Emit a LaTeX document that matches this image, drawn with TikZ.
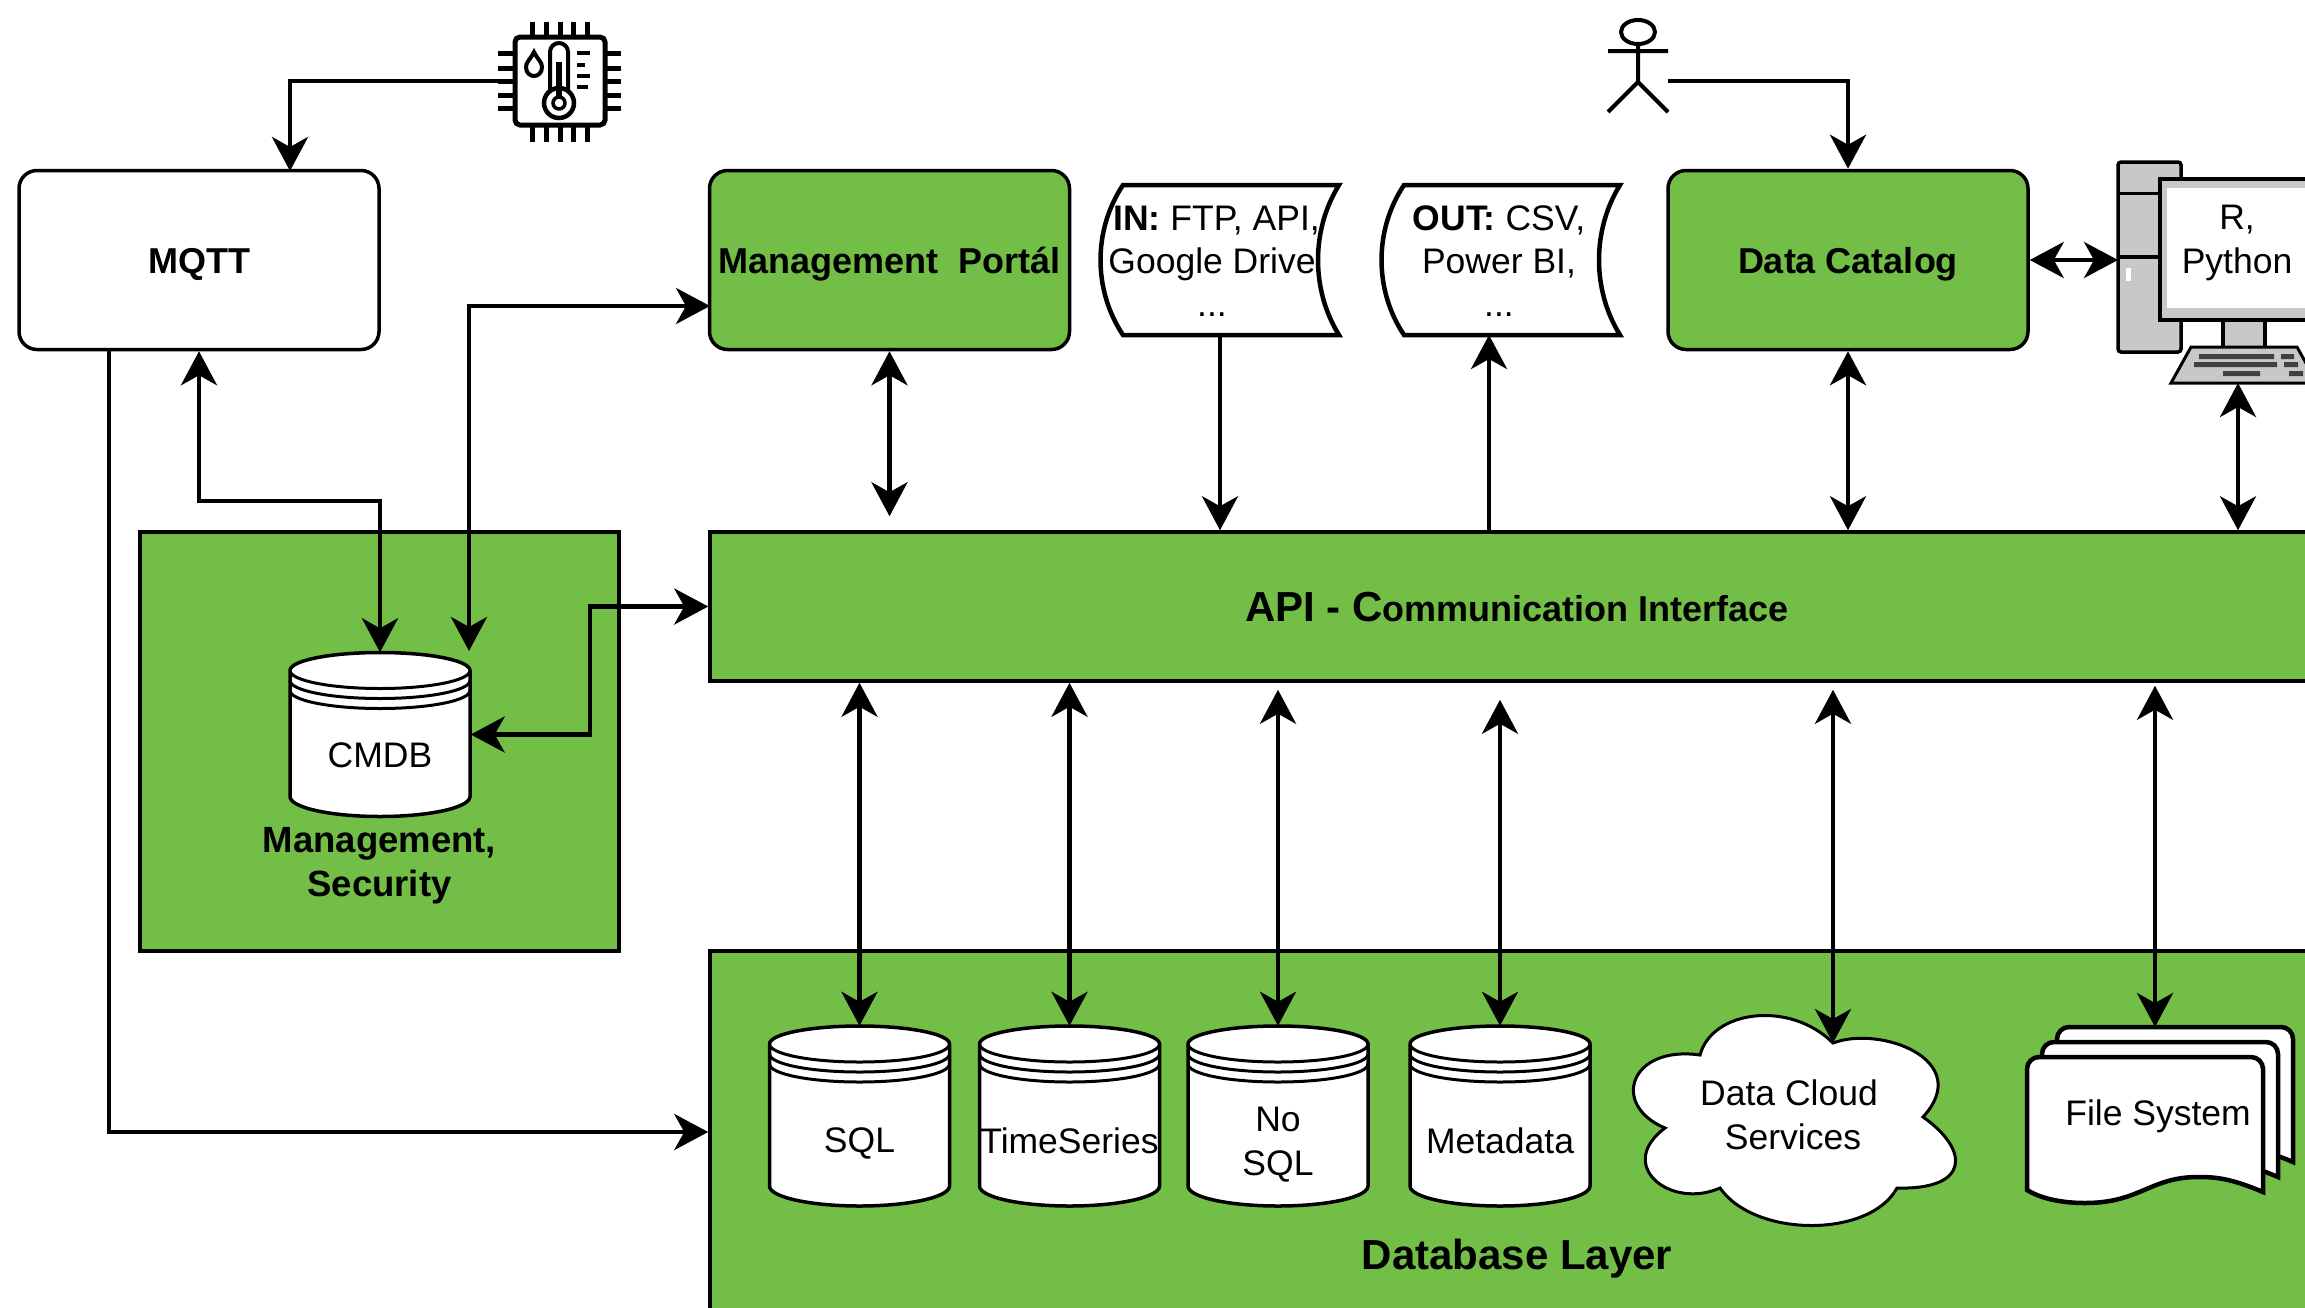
\documentclass[tikz,border=0pt]{standalone}
\usepackage{fontspec}
\setmainfont{Liberation Sans}
\usetikzlibrary{
  arrows.meta,
}
\definecolor{boxgreen}{HTML}{72BE46}
\definecolor{towergray}{HTML}{C8C8C8}
\tikzset{
  every node/.style={font=\fontsize{35.5}{43}\selectfont, align=center},
  titletext/.style={font=\fontsize{36}{44}\selectfont\bfseries},
  boxtext/.style={titletext, text height=30pt, text depth=4pt},
  shapeline/.style={line width=3.5pt, draw=black},
  greenbox/.style={shapeline, fill=boxgreen, rectangle, inner sep=0pt},
  roundbox/.style={shapeline, rectangle, rounded corners=18pt, minimum width=360pt, minimum height=179pt, inner sep=0pt},
  dbnode/.style={rectangle, minimum width=181pt, inner sep=0pt},
  dbtext/.style={font=\fontsize{35.5}{44}\selectfont},
  conn/.style={line width=4.5pt, -{Stealth[length=34pt, width=36pt, inset=10pt]}},
  biconn/.style={line width=4.5pt, {Stealth[length=34pt, width=36pt, inset=10pt]}-{Stealth[length=34pt, width=36pt, inset=10pt]}},
}
\newcommand{\datastore}[6]{
  \begin{scope}[shift={(#2,#3)}]
    \pgfmathsetmacro{\sidetop}{18-#4}
    \pgfmathsetmacro{\sidebot}{#4-20}
    \draw[shapeline, fill=white] (-90,\sidetop) arc[start angle=180, end angle=0, x radius=90pt, y radius=18pt]
      -- (90,\sidebot) arc[start angle=0, end angle=-180, x radius=90pt, y radius=20pt] -- cycle;
    \foreach \k in {0,10,20} {
      \draw[line width=3pt] (-90,\sidetop+\k) arc[start angle=180, end angle=360, x radius=90pt, y radius=18pt];
    }
  \end{scope}
  \node[dbnode, minimum height=2*#4pt, label={[dbtext, yshift=#5pt]center:#6}] (#1) at (#2,#3) {};
}
\begin{document}
\begin{tikzpicture}[x=1pt, y=-1pt]
\useasboundingbox (0,0) rectangle (2305,1307);

\node[roundbox, fill=white, boxtext] (mqtt) at (199,260) {MQTT};
\node[roundbox, fill=boxgreen, boxtext] (portal) at (889.5,260) {Management\ \ Portál};
\node[roundbox, fill=boxgreen, boxtext] (catalog) at (1848,260) {Data Catalog};
\node[greenbox, minimum width=1614pt, minimum height=149pt, boxtext, text height=34pt, font=\fontsize{42}{44}\selectfont\bfseries] (api) at (1517,606.5) {API - C{\fontsize{36}{44}\selectfont ommunication Interface}};
\node[greenbox, minimum width=479pt, minimum height=419pt, label={[titletext, font=\fontsize{36.5}{44}\selectfont\bfseries, yshift=-124pt]center:Management,\\Security}] (mgmt) at (379.5,741.5) {};
\node[greenbox, minimum width=1614pt, minimum height=362pt, label={[titletext, font=\fontsize{42}{44}\selectfont\bfseries, yshift=-127pt]center:Database Layer}] (dblayer) at (1517,1132) {};

% sensor
\node[minimum width=90pt, minimum height=88pt, inner sep=0pt] (sensor) at (560,81) {};
\foreach \p in {532,546,560,573,587} {
  \draw[line width=5pt] (\p,22) -- (\p,35);
  \draw[line width=5pt] (\p,127) -- (\p,142);
}
\foreach \p in {53,68,81,95,108} {
  \draw[line width=5pt] (498,\p) -- (513,\p);
  \draw[line width=5pt] (607,\p) -- (621,\p);
}
\draw[line width=5pt, rounded corners=5pt] (515,37) rectangle (605,125);
\draw[line width=4pt] (550,92) -- (550,52) arc[start angle=180, end angle=0, radius=9pt] -- (568,92);
\draw[line width=4.5pt] (559,103) circle[radius=15pt];
\draw[line width=3.5pt] (559,103) circle[radius=6pt];
\fill (556,62) rectangle (562,97);
\draw[line width=4pt] (534,52) .. controls (530,60) and (526,62) .. (526,67) .. controls (526,79) and (542,79) .. (542,67) .. controls (542,62) and (538,60) .. (534,52) -- cycle;
\foreach \p/\e in {53/590,65/585,76/590,87/588} {
  \draw[line width=4.5pt] (577,\p) -- (\e,\p);
}

% actor
\node[minimum width=60pt, minimum height=92pt, inner sep=0pt] (actor) at (1638,66) {};
\draw[line width=4pt] (1638,32) ellipse[x radius=17pt, y radius=12pt];
\draw[line width=4pt] (1608,51) -- (1668,51) (1638,44) -- (1638,82) -- (1608,112) (1638,82) -- (1668,112);
\coordinate (actorhip) at (1668,81);

% documents
\foreach \k/\nm in {0/storein, 281/storeout} {
  \begin{scope}[shift={(\k,0)}]
    \draw[shapeline, fill=white, line width=4.5pt] (1123,185) -- (1339,185) .. controls (1311,230) and (1311,290) .. (1339,335)
      -- (1123,335) .. controls (1093,290) and (1093,230) .. (1123,185) -- cycle;
    \node[minimum width=240pt, minimum height=150pt, inner sep=0pt] (\nm) at (1220,260) {};
  \end{scope}
}
\node (intext) at (1212,261) {\hspace*{9pt}\textbf{IN:} FTP, API,\\Google Drive\\...};
\node (outtext) at (1499,261) {\textbf{OUT:} CSV,\\Power BI,\\...};

% computer
\draw[shapeline, fill=towergray, rounded corners=3pt] (2118,162) rectangle (2181,352);
\draw[line width=3pt] (2118,193) -- (2181,193);
\draw[line width=4pt] (2118,257) -- (2181,257);
\fill[white] (2126,268) rectangle (2131,281);
\draw[shapeline, fill=towergray] (2223,320) rectangle (2265,350);
\draw[shapeline, fill=towergray] (2160,179) rectangle (2340,320);
\fill[white] (2167,188) rectangle (2340,308);
\draw[shapeline, fill=towergray, line width=3pt] (2191,347) -- (2297,347) -- (2317,383) -- (2171,383) -- cycle;
\fill[black!75] (2199,354) rectangle (2274,359) (2281,354) rectangle (2294,359)
  (2194,362) rectangle (2277,367) (2284,362) rectangle (2298,367)
  (2223,371) rectangle (2260,376) (2289,371) rectangle (2303,376);
\node[dbtext] (screen) at (2237,243) {R,\\Python};
\coordinate (computerleft) at (2118,260);
\coordinate (computerbase) at (2238,383);

% stores
\datastore{cmdb}{380}{734.5}{82}{-21}{CMDB}
\datastore{sql}{859.5}{1116}{90}{-27}{SQL}
\datastore{timeseries}{1069.5}{1116}{90}{-25}{TimeSeries}
\datastore{nosql}{1278}{1116}{90}{-29}{No\\SQL}
\datastore{metadata}{1500}{1116}{90}{-25}{Metadata}

% cloud
\draw[line width=3pt, fill=white] (1700,1055) .. controls (1712,1010) and (1790,1000) .. (1833,1043)
  .. controls (1880,1025) and (1975,1060) .. (1923,1117)
  .. controls (1970,1150) and (1970,1190) .. (1897,1188)
  .. controls (1870,1238) and (1755,1238) .. (1720,1188)
  .. controls (1670,1210) and (1615,1165) .. (1665,1128)
  .. controls (1610,1105) and (1630,1045) .. (1700,1055) -- cycle;
\node[dbtext] (cloud) at (1789,1115) {Data Cloud\\\hspace*{8pt}Services};
\coordinate (cloudtop) at (1833,1043);

% file system
\foreach \k in {30,15,0} {
  \begin{scope}[shift={(\k,-\k)}]
    \draw[shapeline, fill=white, line width=4.5pt, rounded corners=12pt] (2027,1190) -- (2027,1057) -- (2263,1057) [sharp corners] -- (2263,1192)
      .. controls (2230,1178) and (2215,1177) .. (2198,1177)
      .. controls (2150,1177) and (2140,1203) .. (2085,1203)
      .. controls (2060,1203) and (2040,1198) .. (2027,1190) -- cycle;
  \end{scope}
}
\node (files) at (2158,1116) {File System};
\coordinate (filestop) at (2155,1027);

% connectors
\coordinate (mqtttop) at (290,171);
\coordinate (mqttout) at (109,350);
\coordinate (mqttbend) at (380,501);
\coordinate (portalin) at (710,306);
\coordinate (cmdbright) at (469,651);
\coordinate (apibend) at (590,606.5);
\coordinate (outfoot) at (1489,335);
\draw[conn] (sensor.west) -| (mqtttop);
\draw[conn] (mqttout) |- (dblayer.west);
\draw[biconn] (mqtt.south) |- (mqttbend) -- (cmdb.north);
\draw[biconn] (cmdbright) |- (portalin);
\draw[biconn] (cmdb.east) -| (apibend) -- (api.west);
\draw[biconn, shorten >=14pt] (portal.south) -- (portal.south |- api.north);
\draw[conn] (storein.south) -- (storein.south |- api.north);
\draw[conn] (outfoot |- api.north) -- (outfoot);
\draw[conn] (actorhip) -| (catalog.north);
\draw[biconn] (catalog.south) -- (catalog.south |- api.north);
\draw[biconn] (catalog.east) -- (computerleft);
\draw[biconn] (computerbase) -- (computerbase |- api.north);
\draw[biconn] (sql.north |- api.south) -- (sql.north);
\draw[biconn] (timeseries.north |- api.south) -- (timeseries.north);
\draw[biconn, shorten <=7pt] (nosql.north |- api.south) -- (nosql.north);
\draw[biconn, shorten <=17pt] (metadata.north |- api.south) -- (metadata.north);
\draw[biconn, shorten <=7pt] (cloudtop |- api.south) -- (cloudtop);
\draw[biconn, shorten <=3pt] (filestop |- api.south) -- (filestop);
\end{tikzpicture}
\end{document}
